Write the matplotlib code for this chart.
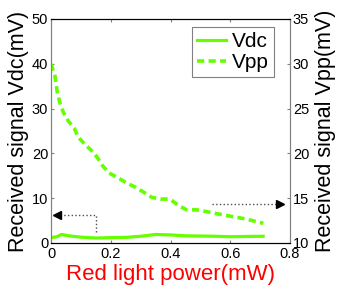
import numpy as np
import matplotlib
matplotlib.use('Agg')
import matplotlib.pyplot as plt

plt.rcParams['font.family'] = ['Liberation Sans', 'DejaVu Sans']

# Data
power_vdc = [0.0, 0.02, 0.035, 0.06, 0.10, 0.15, 0.20, 0.25, 0.30, 0.35,
             0.40, 0.45, 0.50, 0.55, 0.60, 0.65, 0.71]
vdc = [1.2, 1.4, 1.9, 1.6, 1.3, 1.1, 1.2, 1.25, 1.5, 1.9,
       1.8, 1.6, 1.55, 1.5, 1.4, 1.45, 1.5]

power_vpp = [0.0, 0.013, 0.021, 0.030, 0.041, 0.058, 0.078, 0.091, 0.114,
             0.136, 0.156, 0.173, 0.195, 0.223, 0.253, 0.281, 0.309, 0.337,
             0.368, 0.398, 0.426, 0.454, 0.488, 0.521, 0.582, 0.649, 0.711]
vpp = [30.0, 28.7, 26.8, 25.6, 24.6, 23.6, 22.8, 21.8, 21.0,
       20.3, 19.5, 18.6, 17.8, 17.3, 16.7, 16.25, 15.7, 15.1,
       14.9, 14.9, 14.2, 13.7, 13.7, 13.5, 13.1, 12.7, 12.2]

xticks = [0, 0.2, 0.4, 0.6, 0.8]
xticklabels = ['0', '0.2', '0.4', '0.6', '0.8']

# arrows pointing to the axis each curve belongs to
left_arrow_x = [0.15, 0.15, 0.02]
left_arrow_y = [2.5, 6.25, 6.25]
right_arrow_x = [0.538, 0.767]
right_arrow_y = [14.35, 14.35]

green = '#66ff00'

fig = plt.figure(figsize=(3.41, 3.04), dpi=100)
ax = fig.add_axes([0.1496, 0.2007, 0.7008, 0.7368])
ax2 = ax.twinx()

l1, = ax.plot(power_vdc, vdc, '-', color=green, lw=2.3, label='Vdc')
l2, = ax2.plot(power_vpp, vpp, '--', color=green, lw=2.6, dashes=(2, 1.2),
               label='Vpp')

# dotted arrows
ax.plot(left_arrow_x, left_arrow_y, ':', color='0.3', lw=1)
ax.plot(left_arrow_x[-1], left_arrow_y[-1], marker='<', color='k', ms=6,
        mec='k')
ax2.plot(right_arrow_x, right_arrow_y, ':', color='0.3', lw=1)
ax2.plot(right_arrow_x[-1], right_arrow_y[-1], marker='>', color='k', ms=6,
         mec='k')

ax.set_xlim(0, 0.8)
ax.set_ylim(0, 50)
ax2.set_ylim(10, 35)
ax.set_xticks(xticks)
ax.set_xticklabels(xticklabels)
ax.set_yticks([0, 10, 20, 30, 40, 50])
ax2.set_yticks([10, 15, 20, 25, 30, 35])

for a in (ax, ax2):
    a.tick_params(direction='in', length=2.5, width=0.8, color='0.5',
                  labelsize=10.5, pad=2, top=True)
    for s in a.spines.values():
        s.set_linewidth(0.8)
    a.spines['left'].set_color('0.5')
    a.spines['right'].set_color('0.5')
ax.tick_params(axis='x', pad=3)

ax.set_xlabel('Red light power(mW)', color='red', fontsize=16, labelpad=2)
ax.set_ylabel('Received signal Vdc(mV)', fontsize=15.5, labelpad=2)
ax2.set_ylabel('Received signal Vpp(mV)', fontsize=15.5, labelpad=4)

leg = ax2.legend([l1, l2], ['Vdc', 'Vpp'], loc='upper right',
                 bbox_to_anchor=(0.935, 0.965), fontsize=15, fancybox=False,
                 framealpha=1, edgecolor='0.5', handlelength=1.4,
                 handletextpad=0.3, borderpad=0.25, labelspacing=0.1,
                 borderaxespad=0)
leg.get_frame().set_linewidth(0.8)

fig.savefig('out.png', dpi=100)
